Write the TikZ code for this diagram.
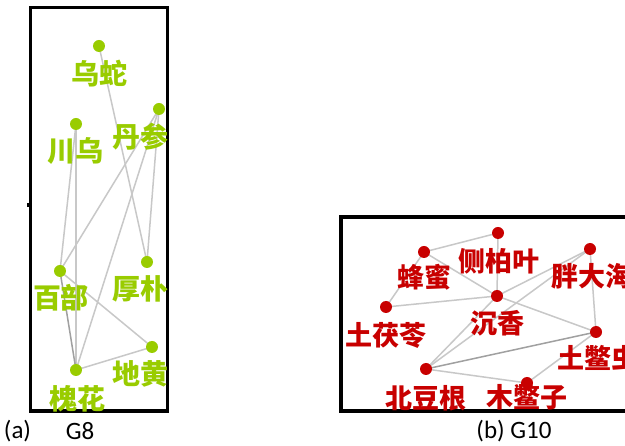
\documentclass[tikz,border=0pt]{standalone}
\usepackage{fontspec}
\setmainfont{Carlito}
\newfontfamily\cjk{Noto Sans CJK SC}
\usetikzlibrary{backgrounds}
\definecolor{hgreen}{RGB}{153,204,0}
\definecolor{hred}{RGB}{200,0,0}
\definecolor{edgegray}{RGB}{200,200,200}
\definecolor{edgedark}{RGB}{160,160,160}
\tikzset{
  gdot/.style={circle,fill=hgreen,inner sep=0pt,minimum size=12pt},
  rdot/.style={circle,fill=hred,inner sep=0pt,minimum size=12pt},
  glab/.style={text=hgreen,font=\cjk\bfseries\fontsize{28}{28}\selectfont,inner sep=0pt},
  rlab/.style={text=hred,font=\cjk\bfseries\fontsize{27}{27}\selectfont,inner sep=0pt},
  lnk/.style={draw=edgegray,line width=1.5pt},
  lnkdark/.style={draw=edgedark,line width=1.5pt},
  panelframe/.style={draw=black,line width=3.5pt},
  captext/.style={font=\fontsize{25}{25}\selectfont,inner sep=0pt}
}
\begin{document}
\begin{tikzpicture}[x=1pt,y=-1pt]
\clip (0,0) rectangle (625,446);
% frames
\draw[panelframe] (30.5,7.5) rectangle (167.5,411);
\fill[black] (26.5,203) rectangle (30,207);
\draw[panelframe] (341,217) rectangle (640,411);
% panel a dots
\node[gdot] (wushe) at (99,46) {};
\node[gdot] (danshen) at (159,109) {};
\node[gdot] (chuanwu) at (76,124) {};
\node[gdot] (baibu) at (60,271) {};
\node[gdot] (houpo) at (147,262) {};
\node[gdot] (dihuang) at (152,347) {};
\node[gdot] (huaihua) at (76,370) {};
% panel a labels
\node[glab] (lwushe) at (99.5,73.5) {乌蛇};
\node[glab] (ldanshen) at (140,137) {丹参};
\node[glab] (lchuanwu) at (76,151) {川乌};
\node[glab] (lbaibu) at (61,298) {百部};
\node[glab] (lhoupo) at (140,289) {厚朴};
\node[glab] (ldihuang) at (140,374) {地黄};
\node[glab] (lhuaihua) at (77,399) {槐花};
% panel b dots
\node[rdot] (cebaiye) at (498,233) {};
\node[rdot] (fengmi) at (424,252) {};
\node[rdot] (pangdahai) at (590,249) {};
\node[rdot] (chenxiang) at (497,296) {};
\node[rdot] (tufuling) at (386,307) {};
\node[rdot] (tubiechong) at (596,332) {};
\node[rdot] (beidougen) at (426,369) {};
% panel b labels
\node[rlab] (lcebaiye) at (498.5,261.5) {侧柏叶};
\node[rlab] (lfengmi) at (424,277.5) {蜂蜜};
\node[rlab] (lpangdahai) at (592,276) {胖大海};
\node[rlab] (lchenxiang) at (497.5,323.5) {沉香};
\node[rlab] (ltufuling) at (386,335) {土茯苓};
\node[rlab] (ltubiechong) at (598,358.5) {土鳖虫};
\node[rlab] (lbeidougen) at (426,398.5) {北豆根};
\node[rlab] (lmubiezi) at (527,397.5) {木鳖子};
\node[rdot] (mubiezi) at (527,383) {};
% captions
\node[captext] (capa) at (17.5,431) {(a)};
\node[captext] (capg8) at (80,431) {G8};
\node[captext] (capb) at (514,431) {(b) G10};
% edges
\begin{pgfonlayer}{background}
\fill[white] (0,0) rectangle (625,446);
\draw[lnk] (wushe.center) -- (houpo.center);
\draw[lnk] (danshen.center) -- (houpo.center);
\draw[lnk] (danshen.center) -- (baibu.center);
\draw[lnk] (danshen.center) -- (huaihua.center);
\draw[lnk] (chuanwu.center) -- (baibu.center);
\draw[lnk] (chuanwu.center) -- (huaihua.center);
\draw[lnkdark] (baibu.center) -- (huaihua.center);
\draw[lnk] (baibu.center) -- (dihuang.center);
\draw[lnk] (huaihua.center) -- (dihuang.center);
\draw[lnk] (cebaiye.center) -- (fengmi.center);
\draw[lnk] (cebaiye.center) -- (chenxiang.center);
\draw[lnk] (fengmi.center) -- (chenxiang.center);
\draw[lnk] (fengmi.center) -- (tufuling.center);
\draw[lnk] (tufuling.center) -- (chenxiang.center);
\draw[lnk] (chenxiang.center) -- (pangdahai.center);
\draw[lnk] (chenxiang.center) -- (tubiechong.center);
\draw[lnk] (pangdahai.center) -- (tubiechong.center);
\draw[lnk] (pangdahai.center) -- (beidougen.center);
\draw[lnk] (chenxiang.center) -- (beidougen.center);
\draw[lnkdark] (beidougen.center) -- (tubiechong.center);
\draw[lnk] (beidougen.center) -- (mubiezi.center);
\draw[lnk] (mubiezi.center) -- (tubiechong.center);
\end{pgfonlayer}
\end{tikzpicture}
\end{document}
